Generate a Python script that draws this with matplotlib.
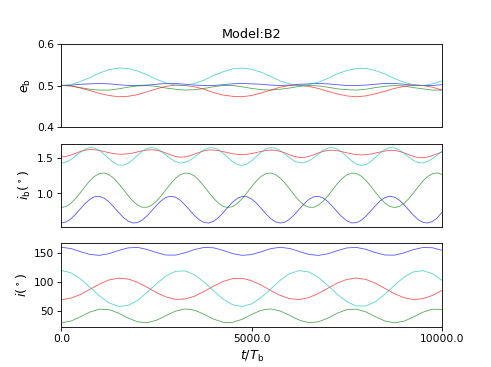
import numpy as np
import matplotlib
matplotlib.use("Agg")
import matplotlib.pyplot as plt
import matplotlib.ticker as ticker

# vrijeme (t/T_b), korak 250 i fini korak 125
t_coarse = [0, 250, 500, 750, 1000, 1250, 1500, 1750, 2000, 2250,
            2500, 2750, 3000, 3250, 3500, 3750, 4000, 4250, 4500, 4750,
            5000, 5250, 5500, 5750, 6000, 6250, 6500, 6750, 7000, 7250,
            7500, 7750, 8000, 8250, 8500, 8750, 9000, 9250, 9500, 9750,
            10000]
t_fine = [0, 125, 250, 375, 500, 625, 750, 875, 1000, 1125,
          1250, 1375, 1500, 1625, 1750, 1875, 2000, 2125, 2250, 2375,
          2500, 2625, 2750, 2875, 3000, 3125, 3250, 3375, 3500, 3625,
          3750, 3875, 4000, 4125, 4250, 4375, 4500, 4625, 4750, 4875,
          5000, 5125, 5250, 5375, 5500, 5625, 5750, 5875, 6000, 6125,
          6250, 6375, 6500, 6625, 6750, 6875, 7000, 7125, 7250, 7375,
          7500, 7625, 7750, 7875, 8000, 8125, 8250, 8375, 8500, 8625,
          8750, 8875, 9000, 9125, 9250, 9375, 9500, 9625, 9750, 9875,
          10000]

# ekscentricnost binara e_b (korak 250)
e_blue = [0.500, 0.501, 0.503, 0.504, 0.505, 0.504, 0.502, 0.500, 0.500, 0.501,
          0.503, 0.505, 0.505, 0.503, 0.501, 0.500, 0.500, 0.502, 0.504, 0.505,
          0.504, 0.503, 0.501, 0.500, 0.501, 0.503, 0.504, 0.505, 0.504, 0.502,
          0.500, 0.500, 0.501, 0.503, 0.505, 0.505, 0.503, 0.501, 0.500, 0.500,
          0.502]
e_green = [0.500, 0.499, 0.495, 0.491, 0.489, 0.489, 0.492, 0.496, 0.499, 0.500,
           0.498, 0.494, 0.491, 0.489, 0.490, 0.493, 0.497, 0.500, 0.500, 0.497,
           0.493, 0.490, 0.489, 0.491, 0.494, 0.498, 0.500, 0.499, 0.496, 0.492,
           0.490, 0.489, 0.491, 0.495, 0.498, 0.500, 0.499, 0.495, 0.492, 0.489,
           0.489]
e_red = [0.501, 0.499, 0.494, 0.488, 0.481, 0.476, 0.473, 0.474, 0.478, 0.485,
         0.492, 0.498, 0.501, 0.500, 0.497, 0.491, 0.483, 0.477, 0.474, 0.473,
         0.476, 0.482, 0.489, 0.496, 0.500, 0.501, 0.498, 0.493, 0.486, 0.480,
         0.475, 0.473, 0.475, 0.480, 0.486, 0.493, 0.498, 0.501, 0.500, 0.496,
         0.489]
e_cyan = [0.500, 0.502, 0.510, 0.519, 0.530, 0.538, 0.542, 0.541, 0.535, 0.526,
          0.515, 0.506, 0.501, 0.500, 0.505, 0.513, 0.524, 0.533, 0.540, 0.542,
          0.539, 0.532, 0.522, 0.511, 0.504, 0.500, 0.502, 0.508, 0.517, 0.528,
          0.536, 0.541, 0.541, 0.536, 0.528, 0.517, 0.508, 0.502, 0.500, 0.504,
          0.511]

# nagib binara i_b u stepenima (korak 125)
ib_blue = [0.580, 0.596, 0.640, 0.706, 0.782, 0.857, 0.917, 0.953, 0.958, 0.933,
           0.881, 0.810, 0.733, 0.662, 0.609, 0.582, 0.586, 0.621, 0.681, 0.754,
           0.831, 0.898, 0.943, 0.960, 0.946, 0.902, 0.837, 0.761, 0.686, 0.625,
           0.588, 0.581, 0.605, 0.657, 0.727, 0.804, 0.876, 0.930, 0.958, 0.954,
           0.921, 0.862, 0.789, 0.712, 0.645, 0.598, 0.580, 0.593, 0.636, 0.700,
           0.776, 0.851, 0.913, 0.951, 0.959, 0.936, 0.886, 0.816, 0.739, 0.667,
           0.612, 0.583, 0.585, 0.617, 0.675, 0.748, 0.825, 0.893, 0.940, 0.960,
           0.948, 0.907, 0.843, 0.767, 0.692, 0.629, 0.590, 0.581, 0.602, 0.652,
           0.730]
ib_green = [0.800, 0.816, 0.860, 0.929, 1.012, 1.099, 1.180, 1.243, 1.281, 1.289,
            1.266, 1.215, 1.143, 1.057, 0.971, 0.893, 0.836, 0.804, 0.804, 0.834,
            0.891, 0.967, 1.054, 1.139, 1.213, 1.265, 1.289, 1.282, 1.245, 1.182,
            1.102, 1.015, 0.932, 0.863, 0.817, 0.800, 0.814, 0.858, 0.925, 1.008,
            1.096, 1.177, 1.241, 1.280, 1.289, 1.268, 1.217, 1.146, 1.061, 0.974,
            0.896, 0.837, 0.805, 0.803, 0.832, 0.888, 0.964, 1.050, 1.136, 1.210,
            1.263, 1.288, 1.283, 1.247, 1.185, 1.106, 1.019, 0.935, 0.865, 0.818,
            0.800, 0.813, 0.856, 0.923, 1.005, 1.092, 1.174, 1.239, 1.279, 1.290,
            1.269]
ib_red = [1.517, 1.524, 1.542, 1.568, 1.593, 1.612, 1.621, 1.618, 1.608, 1.592,
          1.577, 1.564, 1.556, 1.555, 1.561, 1.572, 1.587, 1.603, 1.614, 1.618,
          1.612, 1.595, 1.571, 1.545, 1.523, 1.513, 1.516, 1.532, 1.556, 1.582,
          1.603, 1.615, 1.615, 1.606, 1.592, 1.576, 1.562, 1.553, 1.550, 1.554,
          1.564, 1.579, 1.594, 1.607, 1.614, 1.610, 1.596, 1.573, 1.546, 1.523,
          1.510, 1.510, 1.523, 1.546, 1.572, 1.594, 1.608, 1.612, 1.605, 1.591,
          1.575, 1.561, 1.550, 1.546, 1.548, 1.557, 1.570, 1.586, 1.600, 1.609,
          1.608, 1.596, 1.575, 1.548, 1.524, 1.507, 1.504, 1.514, 1.535, 1.561,
          1.585]
ib_cyan = [1.430, 1.443, 1.479, 1.529, 1.583, 1.626, 1.649, 1.643, 1.609, 1.555,
           1.492, 1.436, 1.402, 1.398, 1.425, 1.477, 1.539, 1.597, 1.637, 1.650,
           1.634, 1.595, 1.543, 1.490, 1.450, 1.431, 1.437, 1.468, 1.516, 1.570,
           1.617, 1.645, 1.647, 1.620, 1.570, 1.508, 1.449, 1.408, 1.396, 1.416,
           1.462, 1.523, 1.584, 1.629, 1.650, 1.641, 1.606, 1.556, 1.503, 1.458,
           1.433, 1.433, 1.458, 1.503, 1.556, 1.606, 1.641, 1.650, 1.629, 1.584,
           1.523, 1.462, 1.416, 1.396, 1.408, 1.449, 1.508, 1.570, 1.620, 1.647,
           1.645, 1.617, 1.570, 1.516, 1.468, 1.437, 1.431, 1.450, 1.490, 1.543,
           1.595]

# nagib i u stepenima (korak 250)
i_blue = [160.0, 157.8, 152.5, 147.6, 146.1, 148.9, 154.4, 158.9, 159.8, 156.3,
          150.8, 146.6, 146.5, 150.5, 156.1, 159.7, 159.1, 154.6, 149.1, 146.1,
          147.4, 152.3, 157.6, 160.0, 157.9, 152.8, 147.7, 146.0, 148.7, 154.1,
          158.8, 159.8, 156.5, 151.0, 146.7, 146.4, 150.3, 155.9, 159.6, 159.2,
          154.8]
i_green = [30.0, 33.0, 40.4, 48.6, 53.6, 52.8, 46.8, 38.4, 31.7, 30.2,
           34.4, 42.4, 50.2, 53.9, 51.8, 44.8, 36.5, 30.8, 30.7, 36.1,
           44.5, 51.6, 54.0, 50.4, 42.8, 34.7, 30.2, 31.6, 38.0, 46.5,
           52.7, 53.6, 48.9, 40.7, 33.2, 30.0, 32.7, 40.0, 48.3, 53.5,
           53.0]
i_red = [70.0, 72.3, 78.7, 87.6, 96.6, 103.7, 106.9, 105.5, 99.8, 91.3,
         82.1, 74.5, 70.4, 70.9, 75.8, 83.9, 93.1, 101.2, 106.1, 106.6,
         102.5, 94.9, 85.7, 77.2, 71.5, 70.1, 73.3, 80.4, 89.4, 98.3,
         104.7, 107.0, 104.7, 98.3, 89.4, 80.4, 73.3, 70.1, 71.5, 77.2,
         85.7]
i_cyan = [120.0, 116.2, 105.8, 91.3, 76.3, 64.3, 58.3, 59.9, 68.5, 82.1,
          97.4, 110.6, 118.6, 119.4, 112.7, 100.3, 85.2, 70.9, 61.1, 58.0,
          62.6, 73.5, 88.2, 103.1, 114.6, 119.8, 117.6, 108.3, 94.4, 79.1,
          66.3, 59.0, 59.0, 66.3, 79.1, 94.4, 108.3, 117.6, 119.8, 114.6,
          103.1]

LW = 0.8
ALPHA = 0.65

fig, axes = plt.subplots(3, 1, figsize=(6.4, 4.785), dpi=76.72, sharex=True)
ax1, ax2, ax3 = axes

# panel 1: e_b
ax1.plot(t_coarse, e_blue, color="b", lw=LW, alpha=ALPHA)
ax1.plot(t_coarse, e_green, color="g", lw=LW, alpha=ALPHA)
ax1.plot(t_coarse, e_red, color="r", lw=LW, alpha=ALPHA)
ax1.plot(t_coarse, e_cyan, color="c", lw=LW, alpha=ALPHA)
ax1.set_ylim(0.4, 0.6)
ax1.set_yticks([0.4, 0.5, 0.6])
ax1.set_ylabel(r"$e_{\rm b}$", fontsize=12)
ax1.set_title("Model:B2", fontsize=12)

# panel 2: i_b
ax2.plot(t_fine, ib_blue, color="b", lw=LW, alpha=ALPHA)
ax2.plot(t_fine, ib_green, color="g", lw=LW, alpha=ALPHA)
ax2.plot(t_fine, ib_red, color="r", lw=LW, alpha=ALPHA)
ax2.plot(t_fine, ib_cyan, color="c", lw=LW, alpha=ALPHA)
ax2.set_yticks([1.0, 1.5])
ax2.set_ylabel(r"$i_{\rm b}(^\circ)$", fontsize=12)

# panel 3: i
ax3.plot(t_coarse, i_blue, color="b", lw=LW, alpha=ALPHA)
ax3.plot(t_coarse, i_green, color="g", lw=LW, alpha=ALPHA)
ax3.plot(t_coarse, i_red, color="r", lw=LW, alpha=ALPHA)
ax3.plot(t_coarse, i_cyan, color="c", lw=LW, alpha=ALPHA)
ax3.set_yticks([50, 100, 150])
ax3.set_ylabel(r"$i(^\circ)$", fontsize=12)

for ax in (ax1, ax2):
    ax.tick_params(axis="x", bottom=False, labelbottom=False)

ax3.set_xlim(0, 10000)
ax3.set_xticks([0, 5000, 10000])
ax3.xaxis.set_major_formatter(ticker.FormatStrFormatter("%.1f"))
ax3.set_xlabel(r"$t/T_{\rm b}$", fontsize=12)

fig.savefig("out.png", dpi=76.72)
